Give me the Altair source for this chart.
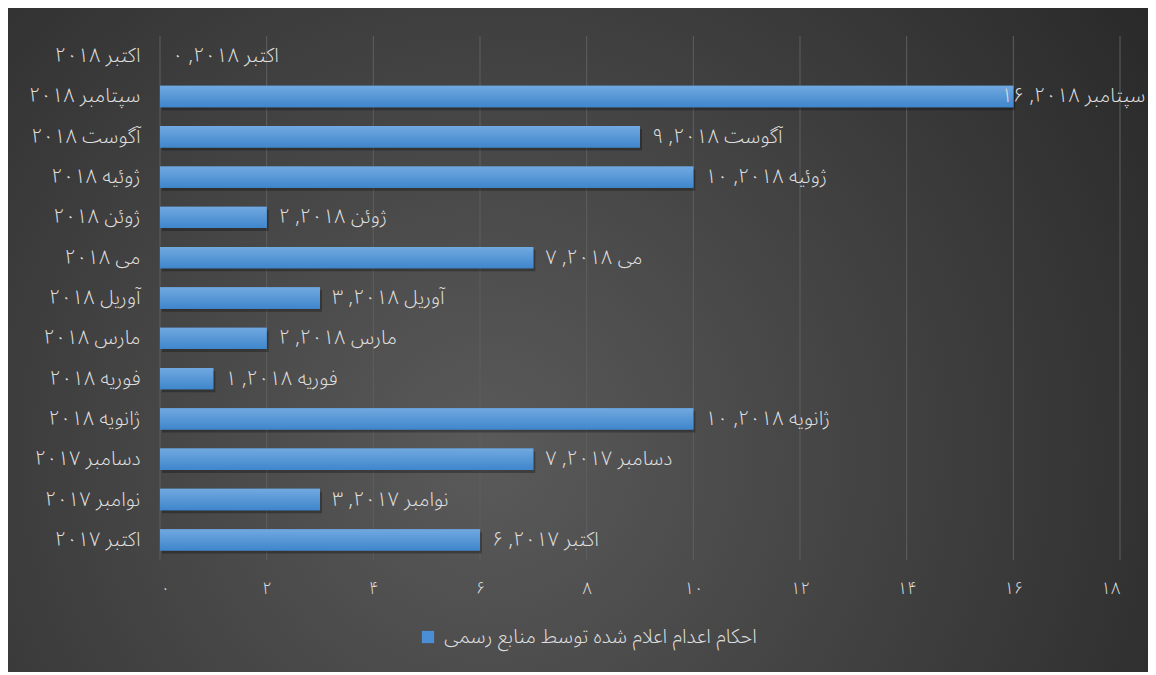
import altair as alt
import pandas as pd

months = ["اکتبر ۲۰۱۸", "سپتامبر ۲۰۱۸", "آگوست ۲۰۱۸", "ژوئیه ۲۰۱۸", "ژوئن ۲۰۱۸",
          "می ۲۰۱۸", "آوریل ۲۰۱۸", "مارس ۲۰۱۸", "فوریه ۲۰۱۸", "ژانویه ۲۰۱۸",
          "دسامبر ۲۰۱۷", "نوامبر ۲۰۱۷", "اکتبر ۲۰۱۷"]
values = [0, 16, 9, 10, 2, 7, 3, 2, 1, 10, 7, 3, 6]
series_name = "احکام اعدام اعلام شده توسط منابع رسمی"
x_ticks = [0, 2, 4, 6, 8, 10, 12, 14, 16, 18]
x_tick_labels = ["۰", "۲", "۴", "۶", "۸", "۱۰", "۱۲", "۱۴", "۱۶", "۱۸"]

fa = str.maketrans("0123456789", "۰۱۲۳۴۵۶۷۸۹")
df = pd.DataFrame({
    "month": months,
    "value": values,
    "series": [series_name] * len(months),
    "label": [f"{m}, {str(v).translate(fa)}" for m, v in zip(months, values)],
})
grid_df = pd.DataFrame({"tick": x_ticks})

FONT = "Noto Sans Arabic, DejaVu Sans, sans-serif"
FW = 300
FS = 20
TXT = "#dedede"
W, H = 960, 524
PAD = {"left": 152, "top": 28, "right": 28, "bottom": 112}

label_expr = "[" + ",".join(f"'{t}'" for t in x_tick_labels) + "][indexof(" + str(x_ticks) + ", datum.value)]"

xscale = alt.Scale(domain=[0, 18], nice=False)
yscale = alt.Scale(paddingInner=0.47, paddingOuter=0.235)

bg = alt.Chart(pd.DataFrame({"a": [0]})).mark_rect(
    fill=alt.RadialGradient(
        gradient="radial", x1=0.42, y1=0.6, r1=0, x2=0.42, y2=0.6, r2=0.75,
        stops=[alt.GradientStop(offset=0, color="#5a5a5a"),
               alt.GradientStop(offset=1, color="#262626")]
    )
).encode(
    x=alt.value(-PAD["left"]), x2=alt.value(W + PAD["right"]),
    y=alt.value(-PAD["top"]), y2=alt.value(H + PAD["bottom"])
)

grid = alt.Chart(grid_df).mark_rule(color="#5e5e5e", strokeWidth=1).encode(
    x=alt.X("tick:Q", scale=xscale), y=alt.value(0), y2=alt.value(H)
)

xenc = alt.X("value:Q", scale=xscale,
             axis=alt.Axis(values=x_ticks, labelExpr=label_expr, title=None,
                           grid=False, domain=False, ticks=False, labelPadding=20,
                           labelFontSize=17, labelColor=TXT, labelFont=FONT,
                           labelFontWeight=FW, zindex=1))
yenc = alt.Y("month:N", sort=months, scale=yscale,
             axis=alt.Axis(title=None, domain=False, ticks=False, labelPadding=20,
                           labelFontSize=FS, labelColor=TXT, labelFont=FONT,
                           labelFontWeight=FW, labelLimit=300, zindex=1))

base = alt.Chart(df)

shadow = base.mark_bar(color="#000000", opacity=0.28, xOffset=2, yOffset=3).encode(
    x=xenc, y=yenc
)

legend_bars = base.mark_bar().encode(
    x=xenc, y=yenc,
    color=alt.Color("series:N", scale=alt.Scale(range=["#4a8fd6"]),
                    legend=alt.Legend(title=None, orient="none", legendX=258, legendY=591,
                                      symbolType="square", symbolSize=150,
                                      labelFontSize=FS, labelColor=TXT, labelFont=FONT,
                                      labelFontWeight=FW, labelOffset=6, labelLimit=600))
)

bars = base.mark_bar(
    fill=alt.LinearGradient(
        gradient="linear", x1=0, y1=0, x2=0, y2=1,
        stops=[alt.GradientStop(offset=0, color="#71a9e0"),
               alt.GradientStop(offset=1, color="#3f86cc")]
    )
).encode(x=xenc, y=yenc)

labels = base.transform_filter("datum.value < 16").mark_text(
    align="left", baseline="middle", dx=12, font=FONT, fontSize=FS,
    fontWeight=FW, color=TXT
).encode(x="value:Q", y=alt.Y("month:N", sort=months), text="label:N")

labels_edge = base.transform_filter("datum.value >= 16").mark_text(
    align="left", baseline="middle", dx=-12, font=FONT, fontSize=FS,
    fontWeight=FW, color=TXT
).encode(x="value:Q", y=alt.Y("month:N", sort=months), text="label:N")

chart = alt.layer(bg, grid, shadow, legend_bars, bars, labels, labels_edge).properties(
    width=W, height=H,
    autosize=alt.AutoSizeParams(type="none"),
    padding=PAD,
    background="#333333",
).configure_view(stroke=None)

chart.save("out.html", embed_options={"renderer": "svg", "actions": False})
